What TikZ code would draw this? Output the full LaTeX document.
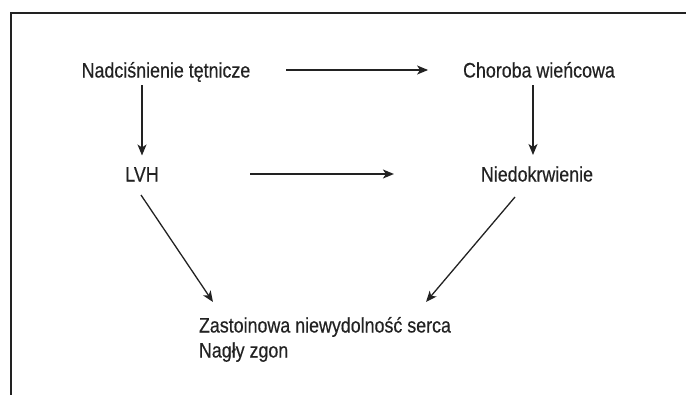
\documentclass[tikz,border=0pt]{standalone}
\usepackage{fontspec}
\setmainfont{Liberation Sans}[FakeStretch=0.85,FakeBold=0.4]
\usetikzlibrary{arrows.meta}
\definecolor{ink}{HTML}{222222}
\tikzset{
  lbl/.style={inner sep=0pt, outer sep=0pt, text height=15pt, text depth=0pt, text=ink,
    font=\fontsize{21}{25}\selectfont},
  conn/.style={draw=ink, line width=1.6pt, -{Stealth[length=11pt,width=9pt,inset=3pt]}},
  frame/.style={draw=ink, line width=1.9pt}
}
\begin{document}
\begin{tikzpicture}[x=1pt,y=-1pt]
\useasboundingbox (0,0) rectangle (686,394);
\draw[frame] (10.7,400) -- (10.7,12.7) -- (690,12.7);

\node[lbl] (nadc) at (166,70) {Nadciśnienie tętnicze};
\node[lbl] (chor) at (539,70) {Choroba wieńcowa};
\node[lbl] (lvh) at (142,174) {LVH};
\node[lbl] (nied) at (537,174) {Niedokrwienie};
\node[lbl, anchor=west] (zast) at (199,325) {Zastoinowa niewydolność serca};
\node[lbl, anchor=west] (nagly) at (199,350) {Nagły zgon};

\draw[conn, shorten <=36pt, shorten >=35pt] (nadc.east) -- (chor.west);
\draw[conn, shorten <=7.5pt, shorten >=11pt] (lvh |- nadc.south) -- (lvh.north);
\draw[conn, shorten <=91.5pt, shorten >=87pt] (lvh.east) -- (nied.west);
\draw[conn] ([shift={(-6,7.5)}]chor.south) -- ([shift={(-4,-11.5)}]nied.north);
\draw[conn, line width=1.3pt] ([shift={(-1,13.5)}]lvh.south) -- ([shift={(14,-15.5)}]zast.north west);
\draw[conn, line width=1.3pt] ([shift={(-22,15.5)}]nied.south) -- ([shift={(-25,-15.5)}]zast.north east);
\end{tikzpicture}
\end{document}
